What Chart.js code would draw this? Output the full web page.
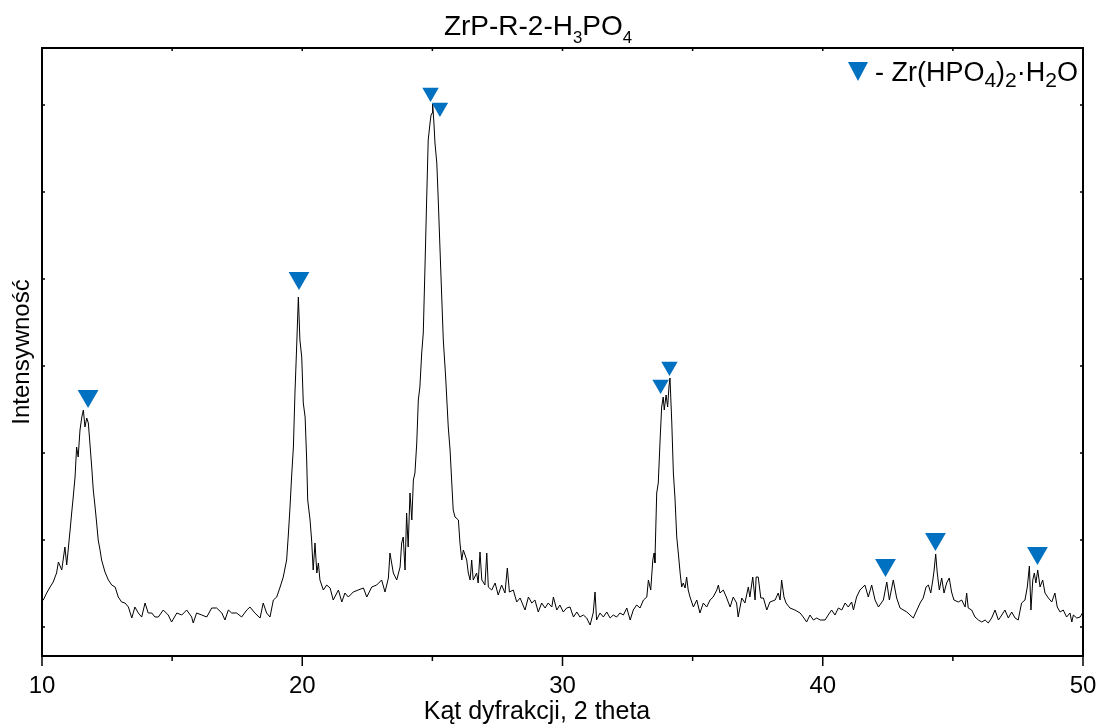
<!DOCTYPE html>
<html>
<head>
<meta charset="utf-8">
<script src="https://cdn.jsdelivr.net/npm/chart.js@4.4.1/dist/chart.umd.min.js"></script>
<style>
  html, body { margin: 0; padding: 0; background: #fff; }
  #wrap { width: 1098px; height: 724px; position: relative; }
</style>
</head>
<body>
<div id="wrap"><canvas id="xrd-chart"></canvas></div>
<script>
// Dane dyfraktogramu ZrP-R-2-H3PO4 (jednostki umowne)
const twoTheta = [
  10.00, 10.05, 10.18, 10.31, 10.43, 10.56, 10.63, 10.76, 10.88, 10.95,
  11.08, 11.14, 11.20, 11.27, 11.33, 11.39, 11.46, 11.53, 11.59, 11.65,
  11.72, 11.78, 11.84, 11.91, 11.97, 12.04, 12.10, 12.16, 12.23, 12.29,
  12.42, 12.55, 12.68, 12.81, 12.93, 13.06, 13.19, 13.32, 13.45, 13.57,
  13.70, 13.83, 13.96, 14.08, 14.22, 14.34, 14.47, 14.66, 14.85, 14.98,
  15.18, 15.37, 15.56, 15.75, 15.81, 15.94, 16.14, 16.33, 16.52, 16.71,
  16.91, 17.03, 17.16, 17.29, 17.48, 17.67, 17.87, 17.99, 18.18, 18.38,
  18.50, 18.63, 18.76, 18.89, 19.02, 19.15, 19.27, 19.40, 19.46, 19.53,
  19.59, 19.66, 19.72, 19.79, 19.85, 19.91, 19.98, 20.04, 20.11, 20.17,
  20.21, 20.30, 20.36, 20.42, 20.49, 20.56, 20.62, 20.68, 20.81, 20.94,
  21.07, 21.19, 21.39, 21.52, 21.64, 21.77, 21.96, 22.15, 22.35, 22.48,
  22.67, 22.86, 23.05, 23.18, 23.31, 23.37, 23.50, 23.63, 23.76, 23.82,
  23.88, 23.95, 24.01, 24.07, 24.14, 24.21, 24.27, 24.33, 24.40, 24.46,
  24.52, 24.59, 24.65, 24.72, 24.78, 24.84, 24.91, 24.95, 24.99, 25.01,
  25.06, 25.10, 25.17, 25.23, 25.29, 25.36, 25.42, 25.51, 25.61, 25.68,
  25.74, 25.80, 25.87, 26.00, 26.06, 26.13, 26.19, 26.32, 26.38, 26.45,
  26.51, 26.57, 26.70, 26.76, 26.83, 26.90, 27.02, 27.09, 27.15, 27.28,
  27.41, 27.53, 27.66, 27.79, 27.88, 27.96, 28.11, 28.24, 28.37, 28.56,
  28.69, 28.82, 28.94, 29.07, 29.20, 29.33, 29.45, 29.59, 29.65, 29.78,
  29.90, 30.03, 30.16, 30.29, 30.42, 30.55, 30.67, 30.80, 30.93, 31.06,
  31.18, 31.25, 31.31, 31.44, 31.57, 31.70, 31.83, 31.95, 32.08, 32.21,
  32.34, 32.47, 32.60, 32.72, 32.85, 32.98, 33.11, 33.24, 33.30, 33.39,
  33.47, 33.52, 33.55, 33.62, 33.68, 33.75, 33.81, 33.87, 33.91, 33.98,
  34.04, 34.09, 34.13, 34.20, 34.26, 34.32, 34.39, 34.45, 34.52, 34.58,
  34.64, 34.71, 34.77, 34.83, 34.90, 35.03, 35.16, 35.28, 35.41, 35.54,
  35.67, 35.79, 35.93, 35.99, 36.05, 36.18, 36.31, 36.44, 36.56, 36.69,
  36.75, 36.89, 37.01, 37.14, 37.20, 37.31, 37.40, 37.44, 37.52, 37.62,
  37.72, 37.85, 37.97, 38.17, 38.29, 38.36, 38.42, 38.51, 38.59, 38.74,
  38.93, 39.13, 39.25, 39.38, 39.51, 39.64, 39.77, 39.90, 40.09, 40.21,
  40.34, 40.47, 40.60, 40.73, 40.86, 40.98, 41.11, 41.18, 41.30, 41.43,
  41.62, 41.75, 41.88, 42.01, 42.14, 42.33, 42.46, 42.56, 42.71, 42.84,
  42.97, 43.23, 43.48, 43.74, 43.86, 43.97, 44.06, 44.15, 44.23, 44.28,
  44.34, 44.40, 44.48, 44.57, 44.66, 44.76, 44.86, 44.95, 45.04, 45.21,
  45.34, 45.47, 45.53, 45.59, 45.72, 45.85, 45.98, 46.11, 46.24, 46.36,
  46.49, 46.62, 46.75, 46.88, 47.00, 47.13, 47.26, 47.39, 47.51, 47.64,
  47.77, 47.86, 47.94, 48.00, 48.07, 48.13, 48.19, 48.26, 48.35, 48.45,
  48.54, 48.67, 48.80, 48.92, 49.01, 49.12, 49.24, 49.37, 49.50, 49.57,
  49.63, 49.76, 49.89, 50.00
];

const intensity = [
  27, 27, 34, 40, 45, 54, 65, 57, 80, 62,
  97, 114, 130, 150, 180, 170, 197, 210, 217, 200,
  209, 204, 184, 160, 137, 120, 104, 87, 77, 67,
  55, 47, 42, 40, 30, 25, 24, 20, 9, 20,
  14, 10, 24, 14, 14, 10, 10, 17, 12, 5,
  14, 12, 17, 10, 4, 14, 12, 10, 19, 19,
  14, 7, 17, 14, 14, 10, 17, 20, 14, 9,
  24, 14, 10, 27, 30, 40, 50, 67, 90, 120,
  150, 180, 234, 284, 330, 287, 270, 224, 210, 167,
  127, 107, 87, 57, 84, 54, 64, 47, 37, 42,
  39, 27, 37, 25, 34, 30, 35, 37, 39, 30,
  40, 42, 47, 35, 49, 74, 54, 47, 60, 84,
  90, 57, 114, 80, 134, 107, 147, 154, 184, 227,
  240, 274, 294, 364, 427, 487, 504, 512, 514, 523,
  504, 484, 464, 424, 380, 330, 287, 250, 200, 177,
  147, 117, 110, 107, 84, 67, 77, 67, 54, 47,
  67, 47, 54, 44, 75, 47, 42, 74, 40, 37,
  44, 32, 42, 34, 59, 35, 37, 25, 29, 17,
  30, 24, 27, 15, 24, 19, 24, 20, 30, 17,
  22, 15, 19, 20, 10, 15, 10, 12, 9, 2,
  14, 35, 7, 14, 10, 15, 9, 12, 10, 14,
  12, 19, 7, 17, 22, 19, 27, 30, 47, 37,
  67, 74, 64, 134, 144, 187, 220, 230, 217, 232,
  220, 240, 249, 204, 154, 130, 90, 74, 54, 40,
  44, 39, 50, 37, 30, 20, 27, 14, 24, 20,
  27, 30, 37, 42, 34, 37, 29, 20, 30, 24,
  10, 29, 24, 40, 30, 50, 27, 50, 50, 29,
  29, 17, 25, 27, 34, 27, 47, 30, 24, 19,
  17, 14, 10, 5, 12, 7, 9, 7, 7, 12,
  17, 12, 19, 17, 24, 20, 25, 17, 30, 37,
  42, 30, 42, 27, 20, 27, 45, 27, 47, 29,
  19, 15, 9, 24, 29, 40, 42, 34, 47, 57,
  73, 54, 37, 49, 34, 44, 49, 35, 27, 25,
  27, 20, 34, 19, 17, 10, 7, 5, 7, 4,
  9, 17, 7, 12, 17, 9, 15, 9, 7, 24,
  27, 40, 61, 17, 47, 54, 44, 57, 40, 47,
  34, 29, 25, 34, 20, 15, 17, 10, 14, 5,
  12, 9, 10, 15
];

// Refleksy Zr(HPO4)2·H2O (położenie znacznika nad pikiem)
const peakTheta = [11.77, 19.875, 24.93, 25.29, 33.77, 34.11, 42.41, 44.33, 48.25];
const peakMarkY = [231, 349, 534.5, 519.5, 242.5, 260.5, 62, 88, 74];

const xTickValues = [10, 15, 20, 25, 30, 35, 40, 45, 50];
const yTickValues = [0, 87, 174, 261, 348, 435, 522];

const FONT = 'Arial, "Liberation Sans", sans-serif';
const MARKER_BLUE = '#0070c0';
const markerRadii = [12, 12, 9.5, 9.5, 9.5, 9.5, 12, 12, 12];

// rysuje tekst z indeksami dolnymi, parts = [[tekst, czyIndeks], ...]
function drawRichText(ctx, parts, x, y, size, subScale, subDrop, align) {
  const subSize = size * subScale;
  const widths = parts.map(([t, sub]) => {
    ctx.font = `${sub ? subSize : size}px ${FONT}`;
    return ctx.measureText(t).width;
  });
  const total = widths.reduce((a, b) => a + b, 0);
  let cx = align === 'center' ? x - total / 2 : (align === 'right' ? x - total : x);
  ctx.textBaseline = 'alphabetic';
  ctx.textAlign = 'left';
  parts.forEach(([t, sub], i) => {
    ctx.font = `${sub ? subSize : size}px ${FONT}`;
    ctx.fillText(t, cx, sub ? y + size * subDrop : y);
    cx += widths[i];
  });
}

const frameAndTicks = {
  id: 'frameAndTicks',
  afterDatasetsDraw(chart) {
    const ctx = chart.ctx;
    const {left, right, top, bottom} = chart.chartArea;
    const xs = chart.scales.x;
    const ys = chart.scales.y;
    ctx.save();
    ctx.strokeStyle = '#000';
    ctx.lineWidth = 1.5;
    ctx.beginPath();
    xs.ticks.forEach(t => {
      const px = xs.getPixelForValue(t.value);
      const major = t.value % 10 === 0;
      ctx.moveTo(px, bottom);
      ctx.lineTo(px, bottom + (major ? 10 : 5));
      ctx.moveTo(px, top);
      ctx.lineTo(px, top + 3);
    });
    ys.ticks.forEach(t => {
      const py = ys.getPixelForValue(t.value);
      ctx.moveTo(left, py);
      ctx.lineTo(left + 3, py);
      ctx.moveTo(right, py);
      ctx.lineTo(right - 3, py);
    });
    ctx.stroke();
    ctx.lineWidth = 2;
    ctx.strokeRect(left, top, right - left, bottom - top);
    ctx.restore();
  },
  afterDraw(chart) {
    const ctx = chart.ctx;
    ctx.save();
    ctx.fillStyle = '#000';
    // tytuł wykresu
    drawRichText(ctx, [['ZrP-R-2-H', false], ['3', true], ['PO', false], ['4', true]],
      538, 35, 28, 0.6, 0.28, 'center');
    // tytuł osi X
    ctx.font = `25px ${FONT}`;
    ctx.textAlign = 'center';
    ctx.textBaseline = 'alphabetic';
    ctx.fillText('Kąt dyfrakcji, 2 theta', 537, 719);
    // legenda
    ctx.fillStyle = MARKER_BLUE;
    ctx.beginPath();
    ctx.moveTo(848, 62);
    ctx.lineTo(868, 62);
    ctx.lineTo(858, 81);
    ctx.closePath();
    ctx.fill();
    ctx.fillStyle = '#000';
    drawRichText(ctx, [['- Zr(HPO', false], ['4', true], [')', false], ['2', true],
      ['\u00B7H', false], ['2', true], ['O', false]],
      1078, 81, 27, 0.78, 0.24, 'right');
    ctx.restore();
  }
};

const config = {
  type: 'line',
  data: {
    datasets: [
      {
        label: 'ZrP-R-2-H3PO4',
        data: twoTheta.map((t, i) => ({x: t, y: intensity[i]})),
        borderColor: '#000',
        borderWidth: 1,
        pointRadius: 0,
        tension: 0,
        fill: false,
        order: 2
      },
      {
        label: 'Zr(HPO4)2·H2O',
        type: 'scatter',
        data: peakTheta.map((t, i) => ({x: t, y: peakMarkY[i]})),
        pointStyle: 'triangle',
        rotation: 180,
        radius: ctx => markerRadii[ctx.dataIndex],
        backgroundColor: MARKER_BLUE,
        borderColor: MARKER_BLUE,
        borderWidth: 0,
        order: 1
      }
    ]
  },
  options: {
    responsive: true,
    maintainAspectRatio: false,
    animation: false,
    layout: { padding: { left: 0, top: 48, right: 15, bottom: 0 } },
    plugins: {
      legend: { display: false },
      title: { display: false },
      tooltip: { enabled: false }
    },
    scales: {
      x: {
        type: 'linear',
        min: 10,
        max: 50,
        grid: { display: false },
        border: { display: false },
        afterBuildTicks: scale => { scale.ticks = xTickValues.map(v => ({value: v})); },
        afterFit: scale => {
          scale.height = 68;
          scale.paddingLeft = 0;
          scale.paddingRight = 0;
        },
        ticks: {
          autoSkip: false,
          maxRotation: 0,
          padding: 8,
          color: '#000',
          font: { family: FONT, size: 24 },
          callback: v => (v % 10 === 0 ? String(v) : '')
        }
      },
      y: {
        type: 'linear',
        min: -29,
        max: 579,
        grid: { display: false },
        border: { display: false },
        afterBuildTicks: scale => { scale.ticks = yTickValues.map(v => ({value: v})); },
        afterFit: scale => { scale.width = 42; },
        ticks: { display: false },
        title: {
          display: true,
          text: 'Intensywność',
          color: '#000',
          font: { family: FONT, size: 24 },
          padding: { top: 8, bottom: 0 }
        }
      }
    }
  },
  plugins: [frameAndTicks]
};

const ctx = document.getElementById('xrd-chart').getContext('2d');
new Chart(ctx, config);
</script>
</body>
</html>
